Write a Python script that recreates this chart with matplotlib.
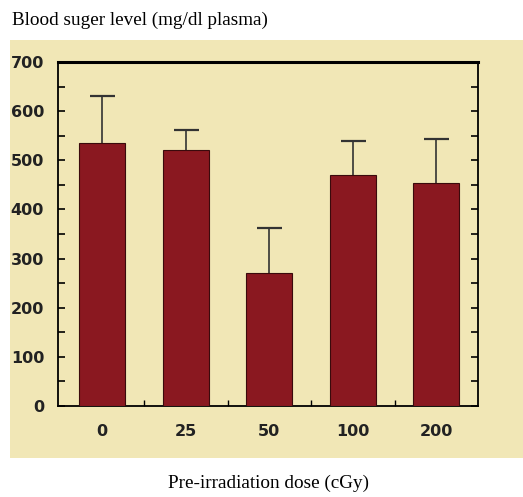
import numpy as np
import matplotlib.pyplot as plt
from matplotlib.patches import Rectangle

# data
doses = ['0', '25', '50', '100', '200']
sugar = [535, 521, 271, 470, 454]
sugar_err = [96, 41, 91, 70, 90]

beige = '#f1e7b6'
bar_col = '#8a1820'

fig = plt.figure(figsize=(5.23, 4.97), dpi=100)

# beige panel behind the plot
fig.patches.append(Rectangle((10 / 523, 1 - 458 / 497), 513 / 523, 418 / 497,
                             transform=fig.transFigure, facecolor=beige,
                             edgecolor='none', zorder=-5))

ax = fig.add_axes([58 / 523, 1 - 406 / 497, 420 / 523, 344 / 497])
ax.set_facecolor(beige)

x = np.arange(len(doses))
ax.bar(x, sugar, width=0.55, color=bar_col, edgecolor='#3a0a0c', lw=0.8,
       zorder=3)
# symmetric error bars drawn behind the bars, so only the upper half shows
ax.errorbar(x, sugar, yerr=sugar_err, fmt='none',
            ecolor='#333333', elinewidth=1.2, capsize=9, capthick=1.6,
            zorder=2)

ax.set_xlim(-0.53, 4.5)
ax.set_ylim(0, 700)
ax.set_yticks(np.arange(0, 701, 100))
ax.set_yticks(np.arange(50, 700, 100), minor=True)
ax.set_xticks(x)
ax.set_xticklabels(doses)
ax.set_xticks(x[:-1] + 0.5, minor=True)

ax.tick_params(axis='y', which='both', direction='in', right=True,
               length=5, width=1.2, labelsize=11.5, pad=10)
ax.tick_params(axis='x', which='major', length=0, labelsize=11.5, pad=13)
ax.tick_params(axis='x', which='minor', direction='in', length=4, width=1)
for lab in ax.get_xticklabels() + ax.get_yticklabels():
    lab.set_fontweight('bold')
    lab.set_color('#222222')

for s in ['left', 'bottom', 'right']:
    ax.spines[s].set_linewidth(1.3)
ax.spines['top'].set_linewidth(2.2)

fig.text(12 / 523, 1 - 20 / 497, 'Blood suger level (mg/dl plasma)',
         family='Liberation Serif', fontsize=13.8, va='center', ha='left')
fig.text(268 / 523, 1 - 483 / 497, 'Pre-irradiation dose (cGy)',
         family='Liberation Serif', fontsize=13.8, va='center', ha='center')

fig.savefig('out.png', dpi=100)
